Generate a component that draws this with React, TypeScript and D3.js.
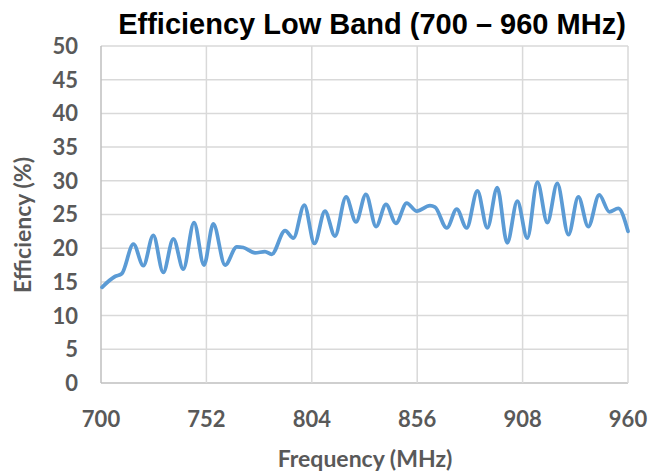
import * as d3 from "d3";

// Efficiency (%) vs frequency (MHz)
const freqs = [
  700.5, 706.9, 710.2, 716, 720.9, 725.8, 730.7, 735.7, 740.6, 745.9, 750.8, 755.4, 761.2,
  767, 770.2, 776, 780.9, 784.2, 790.8, 794.9, 800.3, 805.3, 810.5, 815.4, 820.9, 825.8,
  830.7, 835.7, 840.6, 845.5, 850.8, 855.8, 862.3, 864.8, 870.6, 875.5, 880.4, 885.7,
  890.6, 895.5, 900.4, 905.4, 910.3, 915.3, 920.2, 925.1, 930.6, 935.5, 940.4, 945.8,
  950.8, 955.2, 960,
];
const efficiency = [
  14.2, 15.8, 16.2, 20.6, 17.4, 21.9, 16.4, 21.4, 16.9, 23.8, 17.5, 23.6, 17.5,
  20.2, 20.1, 19.3, 19.5, 19.1, 22.6, 21.5, 26.4, 20.7, 25.5, 21.8, 27.6, 23.9,
  28.0, 23.2, 26.5, 23.7, 26.7, 25.5, 26.3, 26.1, 23.0, 25.8, 23.0, 28.5,
  23.0, 29.0, 20.8, 27.0, 21.5, 29.8, 23.8, 29.6, 22.0, 27.6, 23.2, 27.9,
  25.4, 25.9, 22.5,
];
const xTicks = [700, 752, 804, 856, 908, 960];
const yTicks = [0, 5, 10, 15, 20, 25, 30, 35, 40, 45, 50];

const title = "Efficiency Low Band (700 – 960 MHz)";
const xTitle = "Frequency (MHz)";
const yTitle = "Efficiency (%)";

const W = 652;
const H = 475;
const plot = { left: 101, right: 628, top: 46, bottom: 383 };
const labelFont = "Lato, 'Open Sans', sans-serif";

export default function App() {
  const x = d3.scaleLinear().domain([700, 960]).range([plot.left, plot.right]);
  const y = d3.scaleLinear().domain([0, 50]).range([plot.bottom, plot.top]);

  const points = freqs.map((f, i) => [f, efficiency[i]] as [number, number]);
  const line = d3
    .line<[number, number]>()
    .x((d) => x(d[0]))
    .y((d) => y(d[1]))
    .curve(d3.curveMonotoneX);

  return (
    <svg
      width={W}
      height={H}
      style={{ position: "absolute", left: 0, top: 0, background: "#fff" }}
    >
      {/* grid */}
      {yTicks.map((t) => (
        <line
          key={"gy" + t}
          x1={plot.left}
          x2={plot.right}
          y1={y(t)}
          y2={y(t)}
          stroke={t === 0 ? "#bfbfbf" : "#d9d9d9"}
          strokeWidth={1.5}
        />
      ))}
      {xTicks.map((t) => (
        <line
          key={"gx" + t}
          x1={x(t)}
          x2={x(t)}
          y1={plot.top}
          y2={plot.bottom}
          stroke={t === 700 ? "#bfbfbf" : "#d9d9d9"}
          strokeWidth={1.5}
        />
      ))}

      {/* series */}
      <path
        d={line(points) || ""}
        fill="none"
        stroke="#5b9bd5"
        strokeWidth={3.75}
        strokeLinecap="round"
        strokeLinejoin="round"
      />

      {/* y tick labels */}
      {yTicks.map((t) => (
        <text
          key={"ly" + t}
          x={plot.left - 23}
          y={y(t)}
          dy="0.36em"
          textAnchor="end"
          fontFamily={labelFont}
          fontWeight="bold"
          fontSize={22}
          fill="#595959"
        >
          {t}
        </text>
      ))}
      {/* x tick labels */}
      {xTicks.map((t) => (
        <text
          key={"lx" + t}
          x={x(t)}
          y={427}
          textAnchor="middle"
          fontFamily={labelFont}
          fontWeight="bold"
          fontSize={22}
          fill="#595959"
        >
          {t}
        </text>
      ))}

      <text
        x={365}
        y={467}
        textAnchor="middle"
        fontFamily={labelFont}
        fontWeight="bold"
        fontSize={23}
        fill="#595959"
      >
        {xTitle}
      </text>
      <text
        transform={`translate(31,225) rotate(-90)`}
        textAnchor="middle"
        fontFamily={labelFont}
        fontWeight="bold"
        fontSize={23}
        fill="#595959"
      >
        {yTitle}
      </text>

      <text
        x={372}
        y={34}
        textAnchor="middle"
        fontFamily="'Liberation Sans', Arial, sans-serif"
        fontWeight="bold"
        fontSize={29}
        fill="#000"
      >
        {title}
      </text>
    </svg>
  );
}
